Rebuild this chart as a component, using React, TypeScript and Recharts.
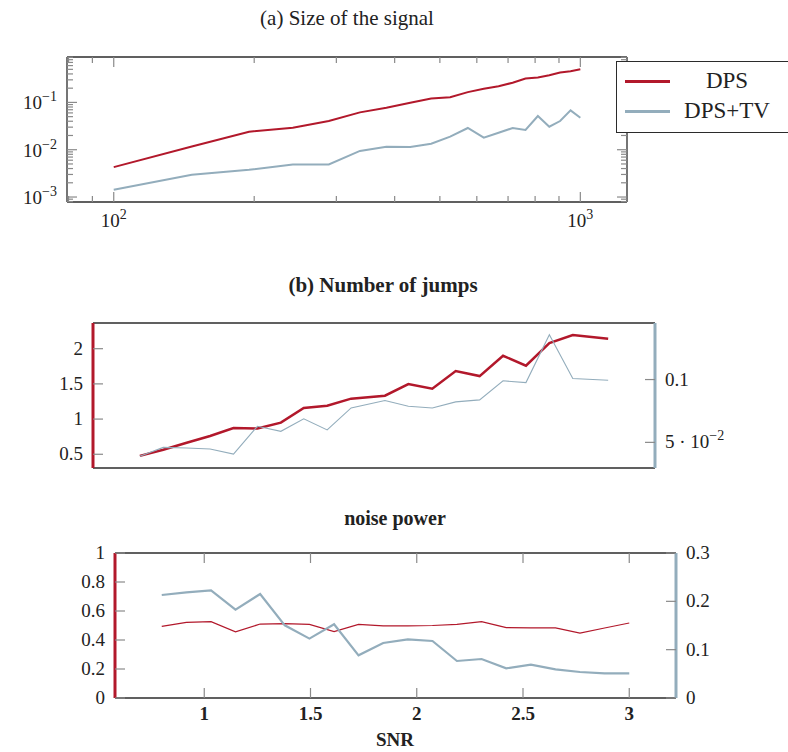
import React from 'react'
import { LineChart, Line, XAxis, YAxis, ReferenceLine } from 'recharts'

const RED = '#b2182b'
const BLUE = '#93adbc'
const FRAME = '#2b2b2b'
const TICK = '#8a8a8a'
const TEXT = '#222'
const SERIF = '"Liberation Serif", "DejaVu Serif", serif'

const seriesNames = ['DPS', 'DPS+TV']

// (a) Size of the signal
const sizeN = [100, 147, 195, 242, 289, 337, 384, 432, 479, 526, 574, 621, 668, 716, 763, 811, 858, 905, 953, 1000]
const sizeDps = [0.00428, 0.0117, 0.024, 0.0292, 0.0404, 0.0616, 0.077, 0.098, 0.121, 0.129, 0.165, 0.195, 0.22, 0.261, 0.32, 0.336, 0.376, 0.428, 0.456, 0.502]
const sizeDpsTv = [0.00143, 0.00295, 0.00376, 0.00486, 0.0049, 0.00944, 0.0116, 0.01145, 0.0134, 0.0189, 0.0288, 0.018, 0.0228, 0.0288, 0.0261, 0.0515, 0.0306, 0.0404, 0.068, 0.0474]
const sizeXTicks = [80, 90, 100, 200, 300, 400, 500, 600, 700, 800, 900, 1000]
const sizeXMajor = [100, 1000]
const sizeYTicks = [
  0.0008, 0.0009, 0.001, 0.002, 0.003, 0.004, 0.005, 0.006, 0.007, 0.008, 0.009,
  0.01, 0.02, 0.03, 0.04, 0.05, 0.06, 0.07, 0.08, 0.09,
  0.1, 0.2, 0.3, 0.4, 0.5, 0.6, 0.7, 0.8, 0.9,
]
const sizeYMajor = [0.001, 0.01, 0.1]

// (b) Number of jumps
const jumpX = [100, 145, 190, 235, 280, 326, 371, 415, 460, 506, 571, 616, 662, 707, 753, 798, 842, 887, 932, 1000]
const jumpDps = [0.477, 0.565, 0.663, 0.759, 0.872, 0.865, 0.949, 1.159, 1.19, 1.29, 1.332, 1.497, 1.432, 1.682, 1.611, 1.9, 1.759, 2.08, 2.193, 2.142]
const jumpDpsTv = [0.039, 0.046, 0.0455, 0.0447, 0.0407, 0.0628, 0.0588, 0.0687, 0.0599, 0.0774, 0.0833, 0.0787, 0.0774, 0.0822, 0.0838, 0.099, 0.0976, 0.1356, 0.1008, 0.0994]
const jumpLeftTicks = [0.5, 1, 1.5, 2]
const jumpRightTicks = [0.05, 0.1]

// noise power
const snr = [0.8, 0.916, 1.032, 1.147, 1.263, 1.379, 1.495, 1.611, 1.726, 1.842, 1.958, 2.074, 2.189, 2.305, 2.421, 2.537, 2.653, 2.768, 2.884, 3.0]
const noiseDps = [0.494, 0.522, 0.527, 0.456, 0.51, 0.513, 0.508, 0.458, 0.508, 0.497, 0.497, 0.5, 0.508, 0.527, 0.486, 0.484, 0.484, 0.448, 0.483, 0.517]
const noiseDpsTv = [0.2131, 0.2187, 0.2228, 0.1829, 0.2152, 0.1504, 0.1229, 0.1525, 0.0883, 0.1138, 0.1214, 0.1179, 0.0766, 0.0807, 0.0614, 0.0691, 0.0594, 0.0538, 0.0511, 0.0511]
const snrTicks = [1, 1.5, 2, 2.5, 3]
const noiseLeftTicks = [0, 0.2, 0.4, 0.6, 0.8, 1]
const noiseRightTicks = [0, 0.1, 0.2, 0.3]

const sizeData = sizeN.map((n, i) => ({ n, dps: sizeDps[i], tv: sizeDpsTv[i] }))
const jumpData = jumpX.map((x, i) => ({ x, dps: jumpDps[i], tv: jumpDpsTv[i] }))
const noiseData = snr.map((s, i) => ({ s, dps: noiseDps[i], tv: noiseDpsTv[i] }))

// plot boxes, in each chart's own svg coordinates
const A = { left: 67, right: 627, top: 57, bottom: 202 }
const B = { left: 93, right: 655, top: 23, bottom: 168 }
const C = { left: 115, right: 676, top: 23, bottom: 168 }

const A_X = [79.4, 1259]
const A_Y = [0.000785, 0.912]
const B_X = [10, 1090]
const B_L = [0.305, 2.365]
const B_R = [0.0296, 0.145]
const C_X = [0.58, 3.22]

const label = { fontFamily: SERIF, fontSize: 19, fill: TEXT }

function SizeXTick(props: any) {
  const { x, payload } = props
  const v = payload.value
  const major = sizeXMajor.includes(v)
  const len = major ? 10 : 6
  return (
    <g>
      <line x1={x} x2={x} y1={A.bottom} y2={A.bottom - len} stroke={TICK} strokeWidth={1.2} />
      <line x1={x} x2={x} y1={A.top} y2={A.top + len} stroke={TICK} strokeWidth={1.2} />
      {major && (
        <text x={x} y={A.bottom + 25} textAnchor="middle" {...label}>
          10<tspan dy={-8} fontSize={14}>{Math.round(Math.log10(v))}</tspan>
        </text>
      )}
    </g>
  )
}

function SizeYTick(props: any) {
  const { y, payload } = props
  const v = payload.value
  const major = sizeYMajor.some((m) => Math.abs(m - v) < m * 1e-6)
  const len = major ? 10 : 6
  return (
    <g>
      <line x1={A.left} x2={A.left + len} y1={y} y2={y} stroke={TICK} strokeWidth={1.2} />
      <line x1={A.right} x2={A.right - len} y1={y} y2={y} stroke={TICK} strokeWidth={1.2} />
      {major && (
        <text x={A.left - 10} y={y + 7} textAnchor="end" {...label}>
          10<tspan dy={-8} fontSize={14}>{'\u2212' + Math.abs(Math.round(Math.log10(v)))}</tspan>
        </text>
      )}
    </g>
  )
}

function JumpLeftTick(props: any) {
  const { y, payload } = props
  return (
    <g>
      <line x1={B.left} x2={B.left + 10} y1={y} y2={y} stroke={TICK} strokeWidth={1.2} />
      <text x={B.left - 10} y={y + 6} textAnchor="end" {...label}>{String(payload.value)}</text>
    </g>
  )
}

function JumpRightTick(props: any) {
  const { y, payload } = props
  const v = payload.value
  return (
    <g>
      <line x1={B.right} x2={B.right - 10} y1={y} y2={y} stroke={TICK} strokeWidth={1.2} />
      <text x={B.right + 10} y={y + 6} textAnchor="start" {...label}>
        {v === 0.05 ? (
          <>
            5 · 10<tspan dy={-8} fontSize={14}>{'\u22122'}</tspan>
          </>
        ) : (
          String(v)
        )}
      </text>
    </g>
  )
}

function SnrTick(props: any) {
  const { x, payload } = props
  return (
    <g>
      <line x1={x} x2={x} y1={C.bottom} y2={C.bottom - 10} stroke={TICK} strokeWidth={1.2} />
      <line x1={x} x2={x} y1={C.top} y2={C.top + 10} stroke={TICK} strokeWidth={1.2} />
      <text x={x} y={C.bottom + 22} textAnchor="middle" {...label} fontWeight="bold">
        {String(payload.value)}
      </text>
    </g>
  )
}

function NoiseLeftTick(props: any) {
  const { y, payload } = props
  return (
    <g>
      <line x1={C.left} x2={C.left + 10} y1={y} y2={y} stroke={TICK} strokeWidth={1.2} />
      <text x={C.left - 10} y={y + 6} textAnchor="end" {...label}>{String(payload.value)}</text>
    </g>
  )
}

function NoiseRightTick(props: any) {
  const { y, payload } = props
  return (
    <g>
      <line x1={C.right} x2={C.right - 10} y1={y} y2={y} stroke={TICK} strokeWidth={1.2} />
      <text x={C.right + 10} y={y + 6} textAnchor="start" {...label}>{String(payload.value)}</text>
    </g>
  )
}

function Title({ text, cx, cy, bold, size = 21 }: { text: string; cx: number; cy: number; bold?: boolean; size?: number }) {
  return (
    <div
      style={{
        position: 'absolute',
        left: cx - 200,
        top: cy - 11,
        width: 400,
        height: 22,
        lineHeight: '22px',
        textAlign: 'center',
        fontFamily: SERIF,
        fontSize: size,
        fontWeight: bold ? 'bold' : 'normal',
        color: TEXT,
      }}
    >
      {text}
    </div>
  )
}

export default function App() {
  const legendColors = [RED, BLUE]
  return (
    <div style={{ position: 'absolute', left: 0, top: 0, width: 788, height: 752, overflow: 'hidden', background: '#fff' }}>
      <Title text="(a) Size of the signal" cx={347} cy={18} />
      <div style={{ position: 'absolute', left: 0, top: 0 }}>
        <LineChart width={788} height={240} data={sizeData} margin={{ top: 57, right: 161, bottom: 0, left: 0 }}>
          <XAxis
            dataKey="n"
            type="number"
            scale="log"
            domain={A_X}
            allowDataOverflow
            ticks={sizeXTicks}
            interval={0}
            height={38}
            tickLine={false}
            tickSize={0}
            axisLine={{ stroke: FRAME, strokeWidth: 1.3 }}
            tick={(p: any) => <SizeXTick {...p} />}
          />
          <YAxis
            type="number"
            scale="log"
            domain={A_Y}
            allowDataOverflow
            ticks={sizeYTicks}
            interval={0}
            width={67}
            tickLine={false}
            tickSize={0}
            axisLine={{ stroke: FRAME, strokeWidth: 1.3 }}
            tick={(p: any) => <SizeYTick {...p} />}
          />
          <ReferenceLine y={A_Y[1]} stroke={FRAME} strokeWidth={1.3} ifOverflow="visible" />
          <ReferenceLine x={A_X[1]} stroke={FRAME} strokeWidth={1.3} ifOverflow="visible" />
          <Line dataKey="dps" name={seriesNames[0]} stroke={RED} strokeWidth={2} dot={false} type="linear" isAnimationActive={false} />
          <Line dataKey="tv" name={seriesNames[1]} stroke={BLUE} strokeWidth={2} dot={false} type="linear" isAnimationActive={false} />
        </LineChart>
      </div>
      <div
        style={{
          position: 'absolute',
          left: 616,
          top: 61,
          width: 200,
          height: 70,
          border: `1px solid ${FRAME}`,
          background: '#fff',
          fontFamily: SERIF,
          fontSize: 23,
          color: TEXT,
        }}
      >
        {seriesNames.map((name, i) => (
          <div key={name} style={{ position: 'absolute', top: 5 + i * 30, left: 0, height: 28, width: '100%' }}>
            <div style={{ position: 'absolute', left: 8, top: 13, width: 45, height: 2.5, background: legendColors[i] }} />
            <div style={{ position: 'absolute', left: 55, top: 0, width: 110, lineHeight: '28px', textAlign: 'center' }}>{name}</div>
          </div>
        ))}
      </div>

      <Title text="(b) Number of jumps" cx={383} cy={285} bold />
      <div style={{ position: 'absolute', left: 0, top: 300 }}>
        <LineChart width={788} height={200} data={jumpData} margin={{ top: 23, right: 0, bottom: 31, left: 0 }}>
          <XAxis
            dataKey="x"
            type="number"
            domain={B_X}
            allowDataOverflow
            height={1}
            tick={false}
            tickLine={false}
            axisLine={{ stroke: FRAME, strokeWidth: 1.3 }}
          />
          <YAxis
            yAxisId="left"
            type="number"
            domain={B_L}
            allowDataOverflow
            ticks={jumpLeftTicks}
            interval={0}
            width={93}
            tickLine={false}
            tickSize={0}
            axisLine={{ stroke: RED, strokeWidth: 3 }}
            tick={(p: any) => <JumpLeftTick {...p} />}
          />
          <YAxis
            yAxisId="right"
            orientation="right"
            type="number"
            domain={B_R}
            allowDataOverflow
            ticks={jumpRightTicks}
            interval={0}
            width={133}
            tickLine={false}
            tickSize={0}
            axisLine={{ stroke: BLUE, strokeWidth: 3 }}
            tick={(p: any) => <JumpRightTick {...p} />}
          />
          <ReferenceLine yAxisId="left" y={B_L[1]} stroke={FRAME} strokeWidth={1.3} ifOverflow="visible" />
          <Line yAxisId="left" dataKey="dps" name={seriesNames[0]} stroke={RED} strokeWidth={2.5} dot={false} type="linear" isAnimationActive={false} />
          <Line yAxisId="right" dataKey="tv" name={seriesNames[1]} stroke={BLUE} strokeWidth={1.1} dot={false} type="linear" isAnimationActive={false} />
        </LineChart>
      </div>

      <Title text="noise power" cx={395} cy={518} bold size={20} />
      <div style={{ position: 'absolute', left: 0, top: 530 }}>
        <LineChart width={788} height={222} data={noiseData} margin={{ top: 23, right: 0, bottom: 24, left: 0 }}>
          <XAxis
            dataKey="s"
            type="number"
            domain={C_X}
            allowDataOverflow
            ticks={snrTicks}
            interval={0}
            height={30}
            tickLine={false}
            tickSize={0}
            axisLine={{ stroke: FRAME, strokeWidth: 1.3 }}
            tick={(p: any) => <SnrTick {...p} />}
          />
          <YAxis
            yAxisId="left"
            type="number"
            domain={[0, 1]}
            allowDataOverflow
            ticks={noiseLeftTicks}
            interval={0}
            width={115}
            tickLine={false}
            tickSize={0}
            axisLine={{ stroke: RED, strokeWidth: 3 }}
            tick={(p: any) => <NoiseLeftTick {...p} />}
          />
          <YAxis
            yAxisId="right"
            orientation="right"
            type="number"
            domain={[0, 0.3]}
            allowDataOverflow
            ticks={noiseRightTicks}
            interval={0}
            width={112}
            tickLine={false}
            tickSize={0}
            axisLine={{ stroke: BLUE, strokeWidth: 3 }}
            tick={(p: any) => <NoiseRightTick {...p} />}
          />
          <ReferenceLine yAxisId="left" y={1} stroke={FRAME} strokeWidth={1.3} ifOverflow="visible" />
          <Line yAxisId="left" dataKey="dps" name={seriesNames[0]} stroke={RED} strokeWidth={1.2} dot={false} type="linear" isAnimationActive={false} />
          <Line yAxisId="right" dataKey="tv" name={seriesNames[1]} stroke={BLUE} strokeWidth={2.2} dot={false} type="linear" isAnimationActive={false} />
        </LineChart>
      </div>
      <Title text="SNR" cx={395} cy={740} bold size={19} />
    </div>
  )
}
